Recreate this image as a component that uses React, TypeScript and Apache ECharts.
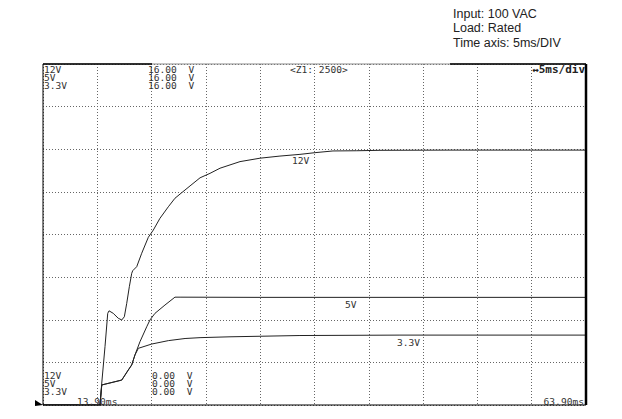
import React, { useEffect, useRef } from "react";
import * as echarts from "echarts";

// time since left edge of screen (13.90 ms), in ms ; values in volts
const t12 = [0, 5.25, 5.41, 5.71, 5.96, 6.08, 6.47, 6.93, 7.25, 7.49, 7.71, 7.95, 8.17, 8.26, 8.63, 9.09, 9.7, 10.16, 10.77, 11.54, 12.15, 12.77, 13.54, 14.46, 15.38, 16.3, 18.14, 19.98, 21.82, 23.66, 25.05, 26.7, 28.89, 31.03, 37.48, 50];
const v12 = [0, 0, 1.03, 2.74, 4.3, 4.42, 4.3, 4.07, 3.99, 4.14, 4.77, 5.55, 6.18, 6.3, 6.49, 7.12, 7.87, 8.21, 8.76, 9.3, 9.7, 9.96, 10.28, 10.66, 10.87, 11.11, 11.42, 11.58, 11.68, 11.76, 11.84, 11.92, 11.93, 11.95, 11.96, 11.96];

const t5 = [0, 5.25, 5.41, 7.25, 7.85, 8.17, 8.47, 8.93, 9.55, 9.85, 10.31, 11.23, 12.15, 12.62, 20, 30, 40, 50];
const v5 = [0, 0, 0.94, 1.17, 1.64, 1.88, 2.35, 2.97, 3.67, 3.99, 4.3, 4.69, 5.06, 5.06, 5.05, 5.05, 5.05, 5.05];

const t33 = [0, 5.25, 5.41, 7.25, 7.85, 8.17, 8.47, 8.78, 10.01, 11.54, 13.08, 14.46, 17.22, 23.66, 32.87, 50];
const v33 = [0, 0, 0.94, 1.17, 1.64, 1.88, 2.35, 2.66, 2.86, 3.02, 3.12, 3.16, 3.2, 3.26, 3.28, 3.28];

const channelNames = ["12V", "5V", "3.3V"];
const topScale = ["16.00  V", "16.00  V", "16.00  V"];
const bottomScale = ["0.00  V", "0.00  V", "0.00  V"];
const timeStart = "13.90ms";
const timeEnd = "63.90ms";
const timeDiv = "↔5ms/div";
const zoomLabel = "<Z1: 2500>";
const notes = ["Input: 100 VAC", "Load: Rated", "Time axis: 5ms/DIV"];

const zip = (a: number[], b: number[]) => a.map((x, i) => [x, b[i]]);

const MONO = "'DejaVu Sans Mono', monospace";

export default function App() {
  const ref = useRef<HTMLDivElement>(null);
  useEffect(() => {
    document.body.style.margin = "0";
    const chart = echarts.init(ref.current!, null, { renderer: "svg" });
    const L = 43, T = 64, W = 543, H = 341;
    const R = L + W, B = T + H;
    const grid = { left: L, top: T, width: W, height: H };
    const dotted = { color: "#666", width: 1, type: [1, 2] as any };
    const txt = (x: number, y: number, text: string, extra: any = {}, sx = 1.2) => ({
      type: "text", x, y, z: 10, scaleX: sx,
      style: { text, font: `8px ${MONO}`, fill: "#333", lineHeight: 8, ...extra },
    });
    const stack = (x: number, y: number, lines: string[]) =>
      lines.map((s, i) => txt(x, y + i * 8, s));
    chart.setOption({
      animation: false,
      grid,
      xAxis: {
        type: "value", min: 0, max: 50, interval: 5,
        axisLabel: { show: false }, axisLine: { show: false }, axisTick: { show: false },
        splitLine: { show: true, lineStyle: dotted },
      },
      yAxis: {
        type: "value", min: 0, max: 16, interval: 2,
        axisLabel: { show: false }, axisLine: { show: false }, axisTick: { show: false },
        splitLine: { show: true, lineStyle: dotted },
      },
      series: [
        { name: "12V", type: "line", data: zip(t12, v12), showSymbol: false, lineStyle: { color: "#222", width: 1 }, z: 5 },
        { name: "5V", type: "line", data: zip(t5, v5), showSymbol: false, lineStyle: { color: "#222", width: 1 }, z: 5 },
        { name: "3.3V", type: "line", data: zip(t33, v33), showSymbol: false, lineStyle: { color: "#222", width: 1 }, z: 5 },
      ],
      graphic: [
        // frame
        { type: "line", z: 9, shape: { x1: L, y1: T, x2: R, y2: T }, style: { stroke: "#888", lineWidth: 1 } },
        { type: "line", z: 9, shape: { x1: L, y1: T, x2: 152, y2: T }, style: { stroke: "#000", lineWidth: 1.5 } },
        { type: "line", z: 9, shape: { x1: 450, y1: T, x2: R, y2: T }, style: { stroke: "#000", lineWidth: 1.5 } },
        { type: "line", z: 9, shape: { x1: L, y1: T, x2: L, y2: B }, style: { stroke: "#000", lineWidth: 1 } },
        { type: "line", z: 9, shape: { x1: L, y1: B, x2: R, y2: B }, style: { stroke: "#000", lineWidth: 1 } },
        { type: "line", z: 9, shape: { x1: R, y1: T, x2: R, y2: B }, style: { stroke: "#000", lineWidth: 2.5 } },
        { type: "polygon", z: 9, shape: { points: [[35, 400], [43, 405], [35, 406]] }, style: { fill: "#000" } },
        // on-screen labels
        ...stack(44, 66, channelNames),
        ...stack(148, 66, topScale),
        txt(290, 66, zoomLabel),
        txt(585, 65, timeDiv, { font: `bold 10px ${MONO}`, fill: "#222", align: "right" }, 1.1),
        ...stack(44, 372, channelNames),
        ...stack(152, 372, bottomScale),
        txt(77, 398, timeStart),
        txt(584, 398, timeEnd, { align: "right" }),
        txt(292, 157, "12V"),
        txt(345, 301, "5V"),
        txt(397, 339, "3.3V"),
        // notes
        ...notes.map((n, i) => ({
          type: "text", x: 453, y: 7 + i * 14.5, z: 10,
          style: { text: n, font: "12.5px 'Liberation Sans', Arial, sans-serif", fill: "#222" },
        })),
      ],
    });
    return () => chart.dispose();
  }, []);
  return <div ref={ref} style={{ width: 622, height: 419 }} />;
}
